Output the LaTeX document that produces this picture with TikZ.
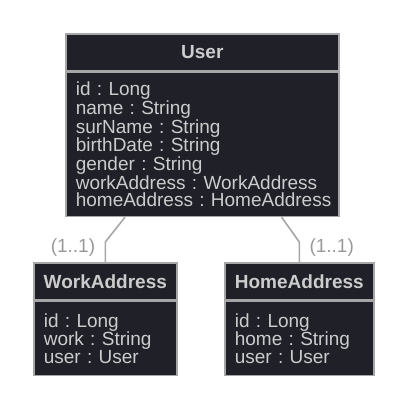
\documentclass[tikz,border=0pt]{standalone}
\usepackage{fontspec}
\setmainfont{Liberation Sans}
\usetikzlibrary{positioning}
\definecolor{boxfill}{HTML}{1F2028}
\definecolor{boxline}{HTML}{A6A6A6}
\definecolor{boxtext}{HTML}{CCCCCC}
\definecolor{multtext}{HTML}{999999}
\tikzstyle{head} = [draw=boxline,line width=1.6pt,fill=boxfill,rectangle,inner sep=0,minimum height=37pt,text=boxtext,font=\fontsize{19}{19}\selectfont\bfseries]
\tikzstyle{body} = [draw=boxline,line width=1.6pt,fill=boxfill,rectangle,inner xsep=10pt,inner ysep=4pt,align=left,text=boxtext,font=\fontsize{19}{17.2}\selectfont\frenchspacing]
\tikzstyle{link} = [-,draw=boxline,line width=1.6pt]
\tikzstyle{mult} = [text=multtext,font=\fontsize{19}{19}\selectfont,inner sep=0]

\begin{document}
\begin{tikzpicture}[x=1pt,y=-1pt, node distance=0pt]
      \useasboundingbox (0,0) rectangle (405,405);
      % User class
      \node[head,minimum width=273pt,anchor=north west] (uhead) at (65,33) {User};
      \node[body,text width=253pt,minimum height=144pt,below=of uhead] (ubody) {id : Long\\name : String\\surName : String\\birthDate : String\\gender : String\\\mbox{workAddress : WorkAddress}\\\mbox{homeAddress : HomeAddress}};
      % WorkAddress class
      \node[head,minimum width=143pt,anchor=north west] (whead) at (33,262) {WorkAddress};
      \node[body,text width=123pt,minimum height=74pt,below=of whead] (wbody) {id : Long\\work : String\\user : User};
      % HomeAddress class
      \node[head,minimum width=149pt,anchor=north west] (hhead) at (224,262) {HomeAddress};
      \node[body,text width=129pt,minimum height=74pt,below=of hhead] (hbody) {id : Long\\home : String\\user : User};
      % associations
      \draw[link] ([xshift=60pt]ubody.south west) -- ([yshift=20pt]whead.north) -- (whead.north);
      \draw[link] ([xshift=-58pt]ubody.south east) -- ([yshift=20pt]hhead.north) -- (hhead.north);
      \node[mult,anchor=east] (wmult) at ([xshift=-10pt,yshift=14pt]whead.north) {(1..1)};
      \node[mult,anchor=west] (hmult) at ([xshift=10pt,yshift=14pt]hhead.north) {(1..1)};
\end{tikzpicture}
\end{document}
